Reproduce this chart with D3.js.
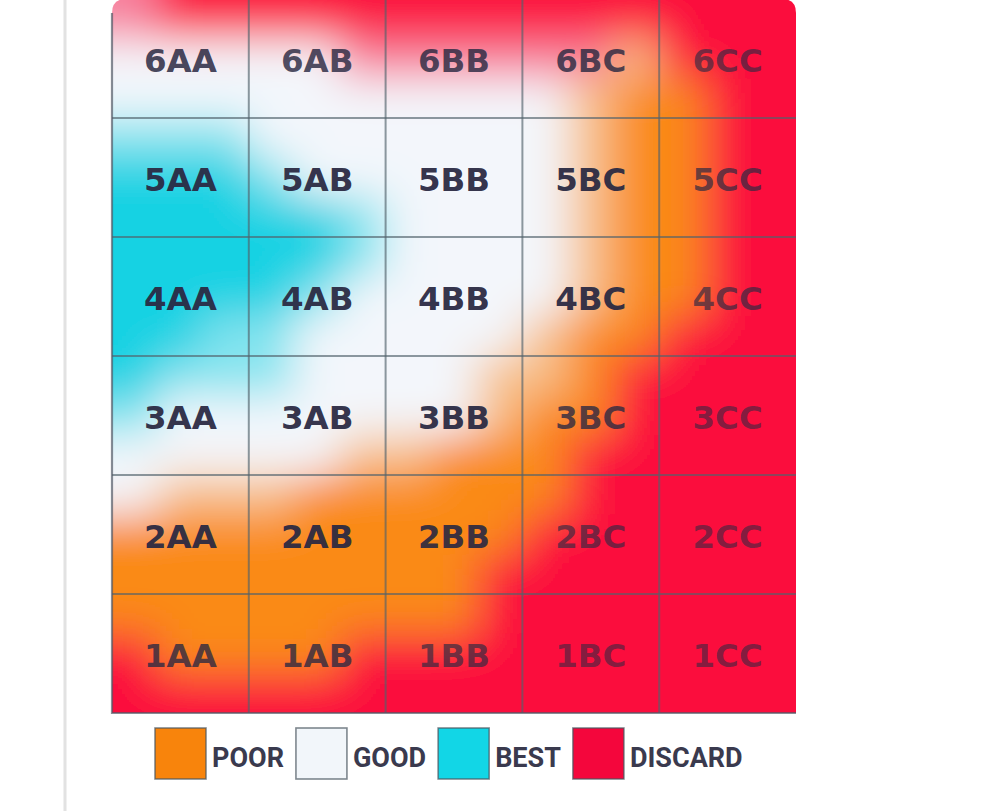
<!DOCTYPE html>
<html><head><meta charset="utf-8">
<script src="https://cdn.jsdelivr.net/npm/d3@7"></script>
<style>html,body{margin:0;padding:0;background:#fff;} svg{display:block;}</style>
</head><body>
<svg id="chart" width="1000" height="811"></svg>
<script>
// ---- data ----
const columns = ["AA", "AB", "BB", "BC", "CC"];
const rows = ["6", "5", "4", "3", "2", "1"];
const legendLabels = ["POOR", "GOOD", "BEST", "DISCARD"];
const zoneCodes = ["P", "G", "B", "D"];
const zoneColors = ["#fa8a16", "#f3f6fb", "#16d2e3", "#fb0a3e"];
const legendColors = ["#f8840c", "#f2f6fa", "#12d6e6", "#f4063c"];
// zone of each third of a cell (3 sub-rows x 3 sub-columns per cell), top row first;
// lowercase = halfway between that zone and GOOD
const zoneGrid = [
  "dDDDDDDDDDDDDDD",
  "GGGGGddddddpDDD",
  "GGGGGGGGGGpPPDD",
  "bbbGGGGGGGpPPDD",
  "BBBbGGGGGGpPPDD",
  "BBBBBbGGGGpPPDD",
  "BBBBBbGGGGpPPDD",
  "BBBBbGGGGGpPPDD",
  "BBbbGGGGGpPPDDD",
  "BbbbGGGGppPDDDD",
  "bGGGGGGGpPPDDDD",
  "GGGGGppPPPDDDDD",
  "GpppPPPPPPDDDDD",
  "PPPPPPPPPDDDDDD",
  "PPPPPPPPDDDDDDD",
  "PPPPPPPPDDDDDDD",
  "DPPPPDDDDDDDDDD",
  "DDDDDDDDDDDDDDD"
];

// ---- layout ----
const gLeft = 112, gRight = 796, gTop = -1, gBottom = 713, radius = 14;
const svg = d3.select("#chart");
svg.append("rect").attr("width", 1000).attr("height", 811).attr("fill", "#fff");
svg.append("line").attr("x1", 65).attr("x2", 65).attr("y1", 0).attr("y2", 811)
  .attr("stroke", "#e2e2e2").attr("stroke-width", 3);

const x = d3.scaleBand().domain(columns).range([gLeft, gRight]);
const y = d3.scaleBand().domain(rows).range([gTop, gBottom]);
const nSubC = columns.length * 3, nSubR = rows.length * 3;
const sx = d3.scaleLinear().domain([0, nSubC]).range([gLeft, gRight]);
const sy = d3.scaleLinear().domain([0, nSubR]).range([gTop, gBottom]);
const zoneColor = d3.scaleOrdinal().domain(zoneCodes).range(zoneColors);
const colorOf = code => {
  const up = code.toUpperCase();
  if (up === code) return zoneColor(code);
  return d3.interpolateRgb(zoneColor("G"), zoneColor(up))(0.5);
};

const defs = svg.append("defs");
const outline = `M${gLeft},${gBottom} L${gLeft},${gTop + radius} Q${gLeft},${gTop} ${gLeft + radius},${gTop} L${gRight - radius},${gTop} Q${gRight},${gTop} ${gRight},${gTop + radius} L${gRight},${gBottom} Z`;
defs.append("clipPath").attr("id", "gridClip").append("path").attr("d", outline);
const f = defs.append("filter").attr("id", "soft").attr("filterUnits", "userSpaceOnUse")
  .attr("x", -50).attr("y", -200).attr("width", 1100).attr("height", 1150);
f.append("feGaussianBlur").attr("stdDeviation", 22);

const cells = [];
zoneGrid.forEach((row, r) => {
  row.split("").forEach((code, c) => {
    let x0 = sx(c), x1 = sx(c + 1), y0 = sy(r), y1 = sy(r + 1);
    if (c === 0) x0 -= 120;
    if (c === nSubC - 1) x1 += 120;
    if (r === 0) y0 -= 120;
    if (r === nSubR - 1) y1 += 120;
    cells.push({ x0, x1, y0, y1, code });
  });
});

const field = svg.append("g").attr("clip-path", "url(#gridClip)")
  .append("g").attr("filter", "url(#soft)");
field.selectAll("rect").data(cells).join("rect")
  .attr("x", d => d.x0).attr("y", d => d.y0)
  .attr("width", d => d.x1 - d.x0 + 0.6).attr("height", d => d.y1 - d.y0 + 0.6)
  .attr("fill", d => colorOf(d.code));

// grid lines
const gl = svg.append("g").attr("stroke", "#52626c").attr("stroke-width", 2).attr("stroke-opacity", 0.65);
gl.selectAll(".v").data(columns.slice(1)).join("line").attr("class", "v")
  .attr("x1", d => x(d)).attr("x2", d => x(d)).attr("y1", gTop).attr("y2", gBottom);
gl.selectAll(".h").data(rows.slice(1)).join("line").attr("class", "h")
  .attr("x1", gLeft).attr("x2", gRight).attr("y1", d => y(d)).attr("y2", d => y(d));
svg.append("path")
  .attr("d", `M${gLeft},${gTop + radius} L${gLeft},${gBottom} L${gRight},${gBottom}`)
  .attr("fill", "none").attr("stroke", "#525a66").attr("stroke-width", 2.2).attr("stroke-opacity", 0.7);

// labels: fade with the share of DISCARD in the cell
const labels = [];
rows.forEach((rw, ri) => columns.forEach((cl, ci) => {
  let nD = 0;
  for (let a = 0; a < 3; a++) for (let b = 0; b < 3; b++)
    if (zoneGrid[ri * 3 + a][ci * 3 + b] === "D") nD++;
  labels.push({ text: rw + cl, row: rw, col: cl, fracD: nD / 9 });
}));
svg.append("g").selectAll("text").data(labels).join("text")
  .attr("x", d => x(d.col) + x.bandwidth() / 2)
  .attr("y", d => y(d.row) + y.bandwidth() / 2 + 2)
  .attr("text-anchor", "middle").attr("dominant-baseline", "central")
  .attr("font-family", "DejaVu Sans, sans-serif").attr("font-weight", 700)
  .attr("font-size", 32.5).attr("fill", "#2a2942")
  .attr("fill-opacity", d => 0.95 - 0.36 * d.fracD)
  .text(d => d.text);

// legend
const lg = svg.append("g");
let cursor = 155;
legendLabels.forEach((lab, i) => {
  lg.append("rect").attr("x", cursor).attr("y", 728).attr("width", 51).attr("height", 51)
    .attr("fill", legendColors[i]).attr("stroke", "#4a5560").attr("stroke-opacity", 0.7).attr("stroke-width", 1.6);
  const t = lg.append("text").attr("x", cursor + 57).attr("y", 767)
    .attr("font-family", "Roboto, sans-serif").attr("font-weight", 700).attr("font-size", 27)
    .attr("fill", "#3a3a4e").text(lab);
  cursor += 57 + t.node().getComputedTextLength() + 12;
});
</script>
</body></html>
